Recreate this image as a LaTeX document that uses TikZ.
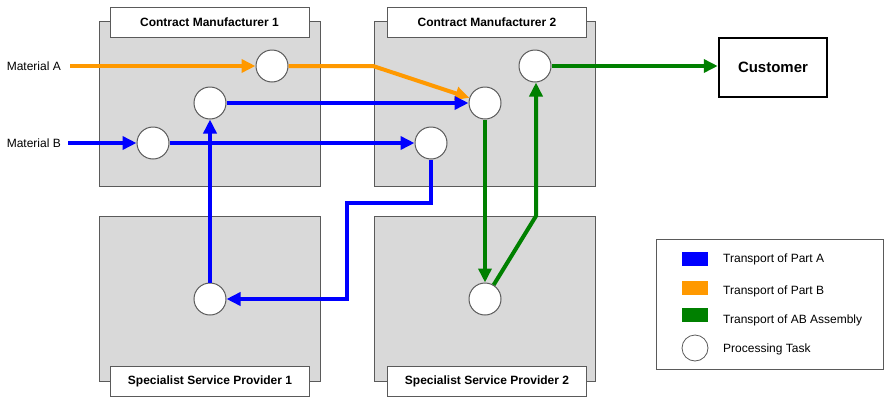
\documentclass[tikz,border=0pt]{standalone}
\usepackage{fontspec}
\setmainfont{Liberation Sans}
\usetikzlibrary{arrows.meta}
\definecolor{pA}{RGB}{0,0,255}
\definecolor{pB}{RGB}{255,153,0}
\definecolor{pAB}{RGB}{0,128,0}
\definecolor{boxgray}{RGB}{217,217,217}
\definecolor{edgegray}{RGB}{90,90,90}
\tikzset{
  site/.style={draw=edgegray, line width=1pt, fill=boxgray, minimum width=221pt, minimum height=165pt, inner sep=0pt},
  sitelabel/.style={draw=edgegray, line width=0.8pt, fill=white, minimum width=199pt, minimum height=30pt, inner sep=0pt, font=\fontsize{12}{14}\selectfont\bfseries},
  task/.style={circle, draw=edgegray, line width=1pt, fill=white, minimum size=32pt, inner sep=0pt},
  flow/.style={line width=4pt, -{Triangle[length=14pt,width=13pt]}},
  plain/.style={font=\fontsize{12}{14}\selectfont},
  swatch/.style={minimum width=26pt, minimum height=14pt, inner sep=0pt},
}
\begin{document}
\begin{tikzpicture}[x=1pt,y=-1pt]
\useasboundingbox (0,0) rectangle (884,397);
% sites
\node[site] (cm1) at (209.5,103.5) {};
\node[site] (cm2) at (485,103.5) {};
\node[site] (sp1) at (209.5,298.5) {};
\node[site] (sp2) at (485,298.5) {};
\node[sitelabel] (cm1l) at (209.5,22) {Contract Manufacturer 1};
\node[sitelabel] (cm2l) at (487,22) {Contract Manufacturer 2};
\node[sitelabel] (sp1l) at (210,381.5) {Specialist Service Provider 1};
\node[sitelabel] (sp2l) at (487,381.5) {Specialist Service Provider 2};
% customer
\node[draw=black, line width=2.5pt, fill=white, minimum width=108pt, minimum height=59pt, inner sep=0pt, font=\fontsize{15}{18}\selectfont\bfseries] (cust) at (773,67.5) {Customer};
% materials
\node[plain, anchor=east, inner sep=0pt] (matA) at (61,66) {Material A};
\node[plain, anchor=east, inner sep=0pt] (matB) at (61,143) {Material B};
% tasks
\node[task] (a1) at (272,66) {};
\node[task] (a2) at (210,103) {};
\node[task] (a3) at (153,143) {};
\node[task] (b1) at (535,66) {};
\node[task] (b2) at (485,103) {};
\node[task] (b3) at (431,143) {};
\node[task] (s1) at (210,299) {};
\node[task] (s2) at (485,299) {};
% waypoints
\coordinate (o1) at (373,66);
\coordinate (t1) at (431,203);
\coordinate (t2) at (347,203);
\coordinate (t3) at (347,299);
\coordinate (g1) at (536,216);
% orange flows
\draw[flow, pB] ([xshift=9pt]matA.east) -- (a1);
\draw[flow, pB] (a1.east) -- (o1) -- (b2);
% blue flows
\draw[flow, pA] ([xshift=7pt]matB.east) -- (a3);
\draw[flow, pA] (a3) -- (b3);
\draw[flow, pA] (b3.south) -- (t1) -- (t2) -- (t3) -- (s1);
\draw[flow, pA] (s1) -- (a2);
\draw[flow, pA] (a2) -- (b2);
% green flows
\draw[flow, pAB] (b2) -- (s2);
\draw[flow, pAB] (s2) -- (g1) -- (g1 |- b1.south);
\draw[flow, pAB] (b1.east) -- (b1.east -| cust.west);
% legend
\node[draw=edgegray, line width=0.8pt, fill=white, minimum width=227pt, minimum height=130pt, inner sep=0pt] (leg) at (769.5,304) {};
\node[swatch, fill=pA] (lA) at (695,259) {};
\node[swatch, fill=pB] (lB) at (695,288) {};
\node[swatch, fill=pAB] (lAB) at (695,315) {};
\node[circle, draw=edgegray, line width=0.8pt, fill=white, minimum size=26pt, inner sep=0pt] (lT) at (695,348) {};
\node[plain, anchor=west, inner sep=0pt] (tA) at (723,259) {Transport of Part A};
\node[plain, anchor=west, inner sep=0pt] (tB) at (723,291) {Transport of Part B};
\node[plain, anchor=west, inner sep=0pt] (tAB) at (723,320) {Transport of AB Assembly};
\node[plain, anchor=west, inner sep=0pt] (tT) at (723,349) {Processing Task};
\end{tikzpicture}
\end{document}
